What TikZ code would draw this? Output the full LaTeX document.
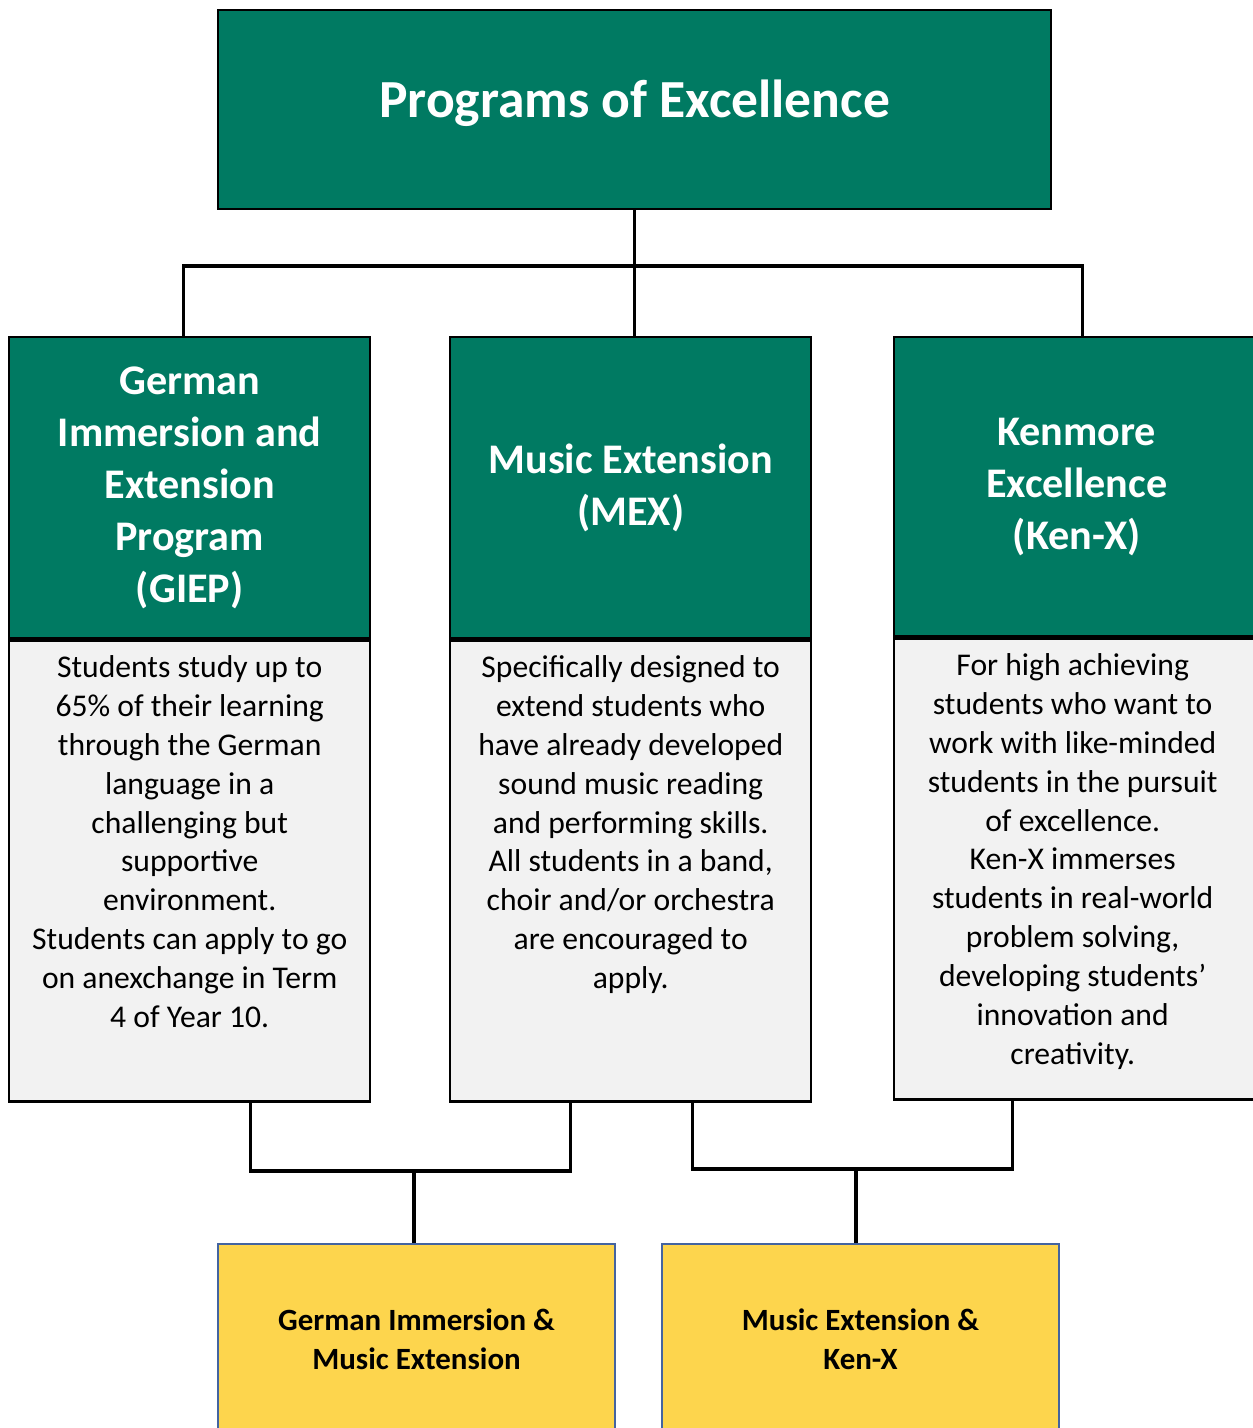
\documentclass[tikz,border=0pt]{standalone}
\usepackage{fontspec}
\setmainfont{Carlito}
\usetikzlibrary{positioning,calc}
\definecolor{excgreen}{RGB}{0,122,98}
\definecolor{bodygrey}{RGB}{242,242,242}
\definecolor{jointyellow}{RGB}{253,213,77}
\definecolor{jointblue}{RGB}{68,100,160}

\begin{document}
\begin{tikzpicture}[x=0.02cm, y=-0.02cm,
    head/.style={draw=black, line width=1.4pt, fill=excgreen, text=white, align=center,
      font=\bfseries\fontsize{24}{29.5}\selectfont, minimum width=7.22cm, minimum height=6.02cm, inner sep=0pt},
    body/.style={draw=black, line width=1.4pt, fill=bodygrey, minimum width=7.22cm, minimum height=9.22cm, inner sep=0pt},
    bodytext/.style={align=center, font=\fontsize{18}{22.1}\selectfont, inner sep=0pt},
    joint/.style={draw=jointblue, line width=1.2pt, fill=jointyellow, align=center, minimum width=7.94cm,
      minimum height=3.8cm, inner sep=0pt, font=\bfseries\fontsize{17.6}{22.1}\selectfont},
    link/.style={draw=black, line width=1.8pt}]
  \useasboundingbox (0,0) rectangle (1253,1428);

  % top box
  \node [draw=black, line width=1.4pt, fill=excgreen, text=white, minimum width=16.66cm, minimum height=3.98cm,
    inner sep=0pt, font=\bfseries\fontsize{30.5}{36}\selectfont, anchor=north west] (top) at (217,9)
    {\raisebox{0.46cm}{Programs of Excellence}};

  % three programs
  \node [head, anchor=north west] (giephead) at (8,336) {German\\Immersion and\\Extension\\Program\\(GIEP)};
  \node [body, anchor=north] (giepbody) at (giephead.south) {};
  \node [bodytext, anchor=north] (gieptext) at ([yshift=-0.32cm]giepbody.north)
    {Students study up to\\65\% of their learning\\through the German\\language in a\\challenging but\\supportive\\environment.\\Students can apply to go\\on anexchange in Term\\4 of Year 10.};

  \node [head, anchor=north west] (mexhead) at (449,336) {Music Extension\\(MEX)};
  \node [body, anchor=north] (mexbody) at (mexhead.south) {};
  \node [bodytext, anchor=north] (mextext) at ([yshift=-0.32cm]mexbody.north)
    {Specifically designed to\\extend students who\\have already developed\\sound music reading\\and performing skills.\\All students in a band,\\choir and/or orchestra\\are encouraged to\\apply.};

  \node [head, minimum width=7.3cm, minimum height=5.98cm, anchor=north west] (kenxhead) at (893,336) {Kenmore\\Excellence\\(Ken-X)};
  \node [body, minimum width=7.3cm, anchor=north] (kenxbody) at (kenxhead.south) {};
  \node [bodytext, anchor=north] (kenxtext) at ([xshift=-0.08cm, yshift=-0.32cm]kenxbody.north)
    {For high achieving\\students who want to\\work with like-minded\\students in the pursuit\\of excellence.\\Ken-X immerses\\students in real-world\\problem solving,\\developing students’\\innovation and\\creativity.};

  % combined programs
  \node [joint, anchor=north west] (gmjoint) at (217,1243) {German Immersion \&\\Music Extension};
  \node [joint, anchor=north west] (mkjoint) at (661,1243) {Music Extension \&\\Ken-X};

  % connectors
  \coordinate (topfork) at (631,266);
  \draw [link] (top.south) -- (top.south |- mexhead.north);
  \draw [link] ([xshift=-0.13cm]giephead.north) |- (topfork) -| ([xshift=0.12cm]kenxhead.north);

  \coordinate (leftfork) at (414,1171);
  \draw [link] ($(giepbody.south west)!0.668!(giepbody.south east)$) |- (leftfork)
    -| ($(mexbody.south west)!0.335!(mexbody.south east)$);
  \draw [link] (leftfork) -- (leftfork |- gmjoint.north);

  \coordinate (rightfork) at (856,1169);
  \draw [link] ($(mexbody.south west)!0.67!(mexbody.south east)$) |- (rightfork)
    -| ($(kenxbody.south west)!0.326!(kenxbody.south east)$);
  \draw [link] (rightfork) -- (rightfork |- mkjoint.north);
\end{tikzpicture}
\end{document}
